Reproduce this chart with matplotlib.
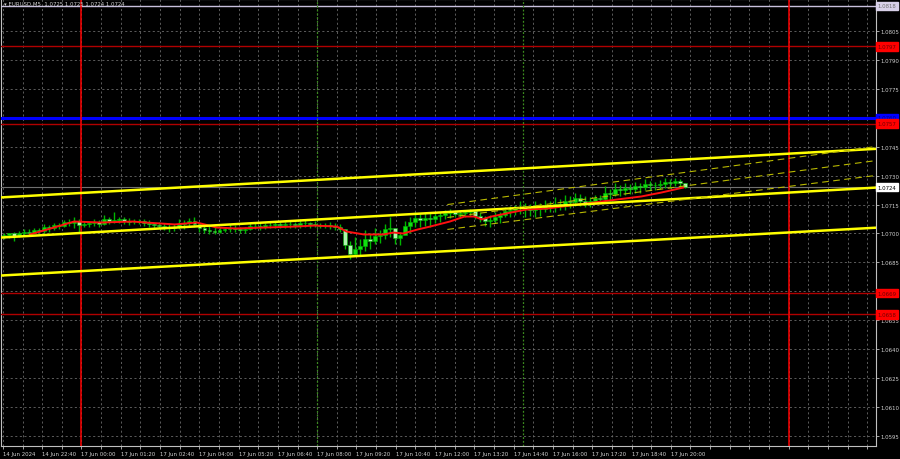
import numpy as np
import matplotlib.pyplot as plt
from matplotlib.ticker import MultipleLocator, FixedLocator
from matplotlib.transforms import blended_transform_factory

base = 1.0700
# EURUSD M5, one entry ~ 2 bars, values in pips over 1.0700
highs = [0.5, 0.5, 1.0, 1.5, 2.1, 2.1, 3.1, 3.1, 4.7, 4.5, 5.7, 5.7, 7.0, 7.3, 8.3, 7.5,
         6.5, 6.2, 7.3, 7.0, 9.8, 8.5, 10.9, 8.8, 8.3, 8.0, 7.3, 7.5, 7.3, 7.0, 5.7, 6.0,
         5.7, 5.5, 5.0, 7.3, 7.0, 8.0, 8.3, 5.5, 4.7, 4.0, 3.6, 3.6, 3.6, 4.7, 4.2, 3.6,
         3.6, 5.7, 5.7, 5.2, 5.7, 6.2, 6.2, 6.0, 6.2, 6.5, 6.2, 7.3, 7.0, 6.2, 6.5, 5.7,
         5.7, 6.2, 5.5, 4.7, 2.1, -4.0, -2.0, -3.0, 2.0, 0.0, 3.1, 2.0, 5.0, 8.3, 2.5, 1.0,
         6.5, 8.3, 10.9, 10.0, 10.9, 10.9, 10.9, 11.4, 12.4, 12.9, 11.4, 12.0, 12.4, 12.9, 11.4, 10.9,
         9.0, 9.5, 10.9, 11.4, 13.5, 14.0, 15.0, 16.6, 16.0, 15.5, 16.6, 16.0, 17.6, 17.0, 18.7, 18.0,
         20.2, 19.5, 21.2, 20.5, 19.2, 18.7, 20.2, 20.0, 24.4, 23.0, 26.4, 25.0, 26.4, 25.5, 26.9, 26.0,
         28.0, 27.0, 26.9, 27.5, 29.0, 28.0, 29.0, 28.5, 26.4]
lows = [-2.6, -2.1, -4.1, -2.0, -1.0, -1.5, 0.0, 0.0, 0.5, 1.0, 2.0, 2.5, 3.5, 4.0, 3.0, 1.0,
        3.5, 3.5, 4.0, 3.6, 4.5, 5.0, 5.5, 5.7, 4.7, 4.5, 4.7, 5.0, 4.0, 3.6, 3.1, 3.1,
        2.0, 1.0, 1.5, 2.1, 2.5, 3.6, 3.5, 1.0, 0.5, -0.5, -0.5, 0.5, 1.0, 1.0, 1.0, 0.5,
        0.5, 2.0, 2.1, 2.0, 2.1, 3.0, 3.1, 3.1, 3.1, 3.0, 3.1, 3.1, 3.6, 3.1, 3.3, 3.1,
        3.1, 2.1, 2.0, 1.0, -8.3, -13.0, -11.5, -10.9, -9.0, -8.3, -5.7, -5.0, -3.0, -2.0, -5.7, -6.0,
        -0.5, 0.5, 3.6, 3.6, 4.0, 3.6, 5.7, 6.2, 7.3, 8.0, 8.3, 8.3, 8.8, 9.0, 7.3, 6.2,
        4.0, 3.6, 5.7, 5.7, 8.3, 8.8, 9.8, 10.0, 8.8, 9.0, 8.8, 9.0, 10.9, 11.0, 11.4, 12.0,
        12.4, 13.0, 14.0, 14.5, 13.5, 13.5, 16.0, 16.0, 17.6, 17.0, 19.2, 19.5, 20.2, 20.5, 21.2, 21.2,
        22.8, 22.8, 22.8, 23.0, 23.8, 23.8, 24.4, 24.0, 23.8]
closes = [-1.0, 0.0, -1.5, 0.5, 1.0, 0.5, 2.0, 1.5, 3.5, 3.0, 4.5, 4.0, 6.0, 5.5, 6.5, 4.5,
          5.0, 5.5, 6.0, 5.0, 7.5, 6.5, 7.0, 7.5, 6.5, 6.0, 6.0, 6.5, 5.5, 5.0, 4.5, 4.0,
          3.5, 3.0, 3.5, 5.0, 5.5, 6.5, 5.0, 3.0, 2.0, 1.5, 1.0, 2.0, 2.5, 3.0, 2.5, 2.0,
          2.5, 4.0, 4.0, 3.5, 4.5, 4.5, 5.0, 4.5, 5.0, 5.0, 4.5, 5.5, 5.5, 5.0, 4.5, 4.0,
          4.5, 4.0, 3.5, 2.5, -6.0, -10.5, -8.0, -6.5, -3.0, -4.0, -1.5, -1.0, 2.5, 3.0, -2.5, -1.0,
          4.0, 6.0, 8.0, 7.0, 8.0, 7.5, 9.0, 9.5, 10.5, 11.0, 10.0, 10.5, 11.0, 11.5, 9.0, 8.0,
          6.5, 7.0, 8.5, 9.5, 11.5, 12.0, 13.0, 13.5, 12.5, 12.0, 13.0, 12.5, 14.0, 14.5, 15.5, 15.0,
          17.0, 16.5, 18.5, 17.0, 16.0, 17.0, 18.5, 18.0, 21.0, 20.5, 23.0, 22.5, 23.5, 23.0, 24.5, 24.0,
          25.5, 25.0, 25.0, 25.5, 26.5, 26.0, 27.0, 26.0, 24.0]

# red moving average (bar index, pips)
ma_bars = [11, 19.5, 29, 40, 53, 58, 70, 79, 87, 95, 107, 119, 127, 136, 140, 147, 155, 159,
           163, 169, 174, 182, 188, 192, 195, 199, 207, 213, 222, 228, 250, 260, 268, 277]
ma_pips = [-0.5, 2.6, 6.2, 5.7, 6.2, 5.7, 4.7, 5.7, 3.1, 2.6, 3.1, 3.6, 4.1, 3.6, 1.0, -0.5, -0.5, 0.5,
           0.0, 2.1, 3.6, 6.2, 8.8, 8.8, 7.3, 8.8, 10.9, 12.4, 13.0, 14.0, 17.6, 19.2, 21.2, 23.8]

# yellow trend channel (pips at left and right edge)
chan_bars = [-0.8, 355.5]
chan_upper = [18.7, 43.9]
chan_mid = [-2.1, 23.8]
chan_lower = [-21.8, 3.0]

# dashed regression channel
reg_bars = [181, 355.5]
reg_upper = [15.0, 45.1]
reg_mid = [8.3, 37.8]
reg_lower = [2.1, 30.1]

levels = [1.0818, 1.0797, 1.0760, 1.0757, 1.0669, 1.0658]
level_colors = ['#c8c0dc', '#b00000', '#0000ff', '#b00000', '#b00000', '#b00000']
level_box = ['#d8d0e8', '#ff0000', '#0000ff', '#ff0000', '#ff0000', '#ff0000']
level_text = ['#707070', '#700000', '#000080', '#700000', '#700000', '#700000']
level_width = [1, 1, 2.2, 1, 1, 1]
last_price = 1.0724

day_lines = [32, 320]
session_lines = [128, 212]

x_labels = ['14 Jun 2024', '14 Jun 22:40', '17 Jun 00:00', '17 Jun 01:20', '17 Jun 02:40',
            '17 Jun 04:00', '17 Jun 05:20', '17 Jun 06:40', '17 Jun 08:00', '17 Jun 09:20',
            '17 Jun 10:40', '17 Jun 12:00', '17 Jun 13:20', '17 Jun 14:40', '17 Jun 16:00',
            '17 Jun 17:20', '17 Jun 18:40', '17 Jun 20:00']
y_ticks = [1.0595, 1.0610, 1.0625, 1.0640, 1.0655, 1.0670, 1.0685, 1.0700, 1.0715, 1.0730,
           1.0745, 1.0760, 1.0775, 1.0790, 1.0805]
# labels covered by the level boxes are not shown
y_hidden = [1.0670, 1.0760]

fig = plt.figure(figsize=(9, 4.6), dpi=100, facecolor='black')
ax = fig.add_axes([0.001, 13 / 460, 875 / 900, 447 / 460])
ax.set_facecolor('black')

hi = base + np.array(highs) / 1e4
lo = base + np.array(lows) / 1e4
cl = base + np.array(closes) / 1e4
op = np.concatenate([[base - 1.5 / 1e4], cl[:-1]])
xs = np.arange(len(cl)) * 2.04 + 0.5

ax.vlines(xs, lo, hi, color='#00b400', lw=1.0, zorder=4)
up = cl >= op
ax.bar(xs[up], (cl - op)[up], bottom=op[up], width=1.6, color='#10e010',
       edgecolor='#00b400', lw=0.4, zorder=5)
ax.bar(xs[~up], (op - cl)[~up], bottom=cl[~up], width=1.6, color='#b0f4b0',
       edgecolor='#00b400', lw=0.4, zorder=5)

ax.plot(ma_bars, base + np.array(ma_pips) / 1e4, color='#ff1010', lw=1.4, zorder=6)

for vals in (chan_upper, chan_mid, chan_lower):
    ax.plot(chan_bars, base + np.array(vals) / 1e4, color='#ffff00', lw=1.8, zorder=7)
for vals in (reg_upper, reg_mid, reg_lower):
    ax.plot(reg_bars, base + np.array(vals) / 1e4, color='#b8b800', lw=0.8,
            ls=(0, (6, 4)), zorder=7)

trans = blended_transform_factory(ax.transAxes, ax.transData)
for lv, c, bc, tc, w in zip(levels, level_colors, level_box, level_text, level_width):
    ax.axhline(lv, color=c, lw=w, zorder=3)
    ax.text(1.002, lv, f'{lv:.4f}', transform=trans, fontsize=3.9, color=tc, va='center',
            ha='left', clip_on=False, zorder=10,
            bbox=dict(boxstyle='square,pad=0.3', fc=bc, ec=bc))
ax.axhline(last_price, color='#707070', lw=0.8, zorder=3)
ax.text(1.002, last_price, f'{last_price:.4f}', transform=trans, fontsize=3.9, color='black',
        va='center', ha='left', clip_on=False, zorder=10,
        bbox=dict(boxstyle='square,pad=0.3', fc='white', ec='white'))

for d in day_lines:
    ax.axvline(d, color='#ff0000', lw=1.1, zorder=3)
for s in session_lines:
    ax.axvline(s, color='#3c8c1e', lw=0.9, ls=(0, (1.5, 1.5)), zorder=3)

ax.set_xlim(-0.8, 355.5)
ax.set_ylim(1.05898, 1.08216)

ax.xaxis.set_major_locator(FixedLocator(np.arange(len(x_labels)) * 16))
ax.set_xticklabels(x_labels)
ax.xaxis.set_minor_locator(MultipleLocator(8))
ax.yaxis.set_major_locator(FixedLocator(y_ticks))
ax.set_yticklabels(['' if v in y_hidden else f'{v:.4f}' for v in y_ticks])
ax.yaxis.tick_right()
ax.tick_params(axis='both', colors='#c0c0c0', labelcolor='#d0d0d0', labelsize=3.9,
               length=2, width=0.6, pad=1.5)
ax.tick_params(axis='x', which='minor', colors='#c0c0c0', length=2, width=0.6)
for lab in ax.get_xticklabels():
    lab.set_horizontalalignment('left')
ax.grid(True, which='both', color='#6a6a6a', lw=0.6, ls=(0, (2.5, 3)), zorder=1)
ax.set_axisbelow(True)
for sp in ax.spines.values():
    sp.set_color('#c0c0c0')
    sp.set_linewidth(0.8)

ax.text(0.004, 0.997, '\u25be EURUSD,M5  1.0725 1.0725 1.0724 1.0724', transform=ax.transAxes,
        fontsize=3.9, color='#d0d0d0', va='top', ha='left', zorder=11)

fig.savefig('out.png', dpi=100, facecolor='black')
